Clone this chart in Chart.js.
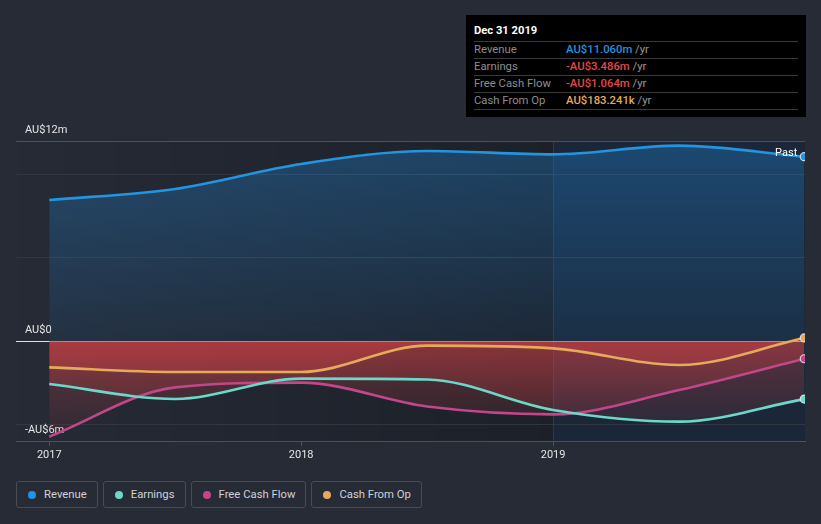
<!DOCTYPE html>
<html>
<head>
<meta charset="utf-8">
<script src="https://cdn.jsdelivr.net/npm/chart.js@4.4.1/dist/chart.umd.min.js"></script>
<style>
  html, body { margin: 0; padding: 0; background: #262b36; width: 821px; height: 524px; overflow: hidden; font-family: Roboto, "Open Sans", sans-serif; }
  #wrap { position: absolute; left: 0; top: 0; width: 821px; height: 470px; }
  #tip { position: absolute; left: 466px; top: 15px; width: 340px; height: 102px; background: #000; box-sizing: border-box; padding: 0 8px; }
  #tip .title { color: #fff; font-weight: bold; font-size: 11.2px; height: 26px; line-height: 32px; border-bottom: 1px solid #3a3a3a; }
  #tip .row { height: 16px; line-height: 16px; font-size: 11.3px; border-bottom: 1px solid #3a3a3a; position: relative; }
  #tip .lab { position: absolute; left: 0; color: #8e8e8e; }
  #tip .val { position: absolute; left: 92px; font-weight: 500; }
  #tip .unit { color: #9a9a9a; font-weight: normal; }
  #legend { position: absolute; left: 16px; top: 481px; display: flex; gap: 5px; }
  .item { box-sizing: border-box; height: 27px; border: 1px solid #474c57; border-radius: 3px; display: flex; align-items: center; padding: 0 10px 0 11px; color: #cfd2d6; font-size: 11.3px; }
  .dot { width: 8px; height: 8px; border-radius: 50%; margin-right: 8px; }
</style>
</head>
<body>
<div id="wrap"><canvas id="c" width="821" height="470"></canvas></div>
<div id="tip"></div>
<div id="legend"></div>
<script>
// ---- data ----
const periods = ["Dec 31 2016", "Jun 30 2017", "Dec 31 2017", "Jun 30 2018", "Dec 31 2018", "Jun 30 2019", "Dec 31 2019"];
const periodYears = [2017.0, 2017.5, 2018.0, 2018.5, 2019.0, 2019.5, 2019.997];
const revenue = [8.46, 9.12, 10.62, 11.4, 11.2, 11.72, 11.060];
const earnings = [-2.58, -3.48, -2.26, -2.31, -4.14, -4.84, -3.486];
const freeCashFlow = [-5.74, -2.78, -2.50, -3.93, -4.40, -2.94, -1.064];
const cashFromOp = [-1.58, -1.86, -1.86, -0.28, -0.44, -1.44, 0.183241];
const seriesNames = ["Revenue", "Earnings", "Free Cash Flow", "Cash From Op"];
const seriesColors = ["#2394df", "#6bd9ca", "#c4468a", "#e5aa5a"];
const xTickYears = [2017, 2018, 2019];
const yTickValues = [-6, -5, 0, 5, 10, 12];
const yTickLabels = { "12": "AU$12m", "0": "AU$0", "-6": "-AU$6m" };
const pastStart = 2019;

// ---- helpers ----
function fmt(v) {
  const s = v < 0 ? "-" : "";
  const a = Math.abs(v);
  return a >= 1 ? s + "AU$" + a.toFixed(3) + "m" : s + "AU$" + (a * 1000).toFixed(3) + "k";
}
const allSeries = [revenue, earnings, freeCashFlow, cashFromOp];
const tipValColors = ["#2394df", "#e54848", "#e54848", "#e5aa5a"];
let tipHtml = '<div class="title">' + periods[periods.length - 1] + '</div>';
seriesNames.forEach((n, i) => {
  const v = allSeries[i][allSeries[i].length - 1];
  tipHtml += '<div class="row"><span class="lab">' + n + '</span><span class="val" style="color:' + tipValColors[i] + '">' + fmt(v) + ' <span class="unit">/yr</span></span></div>';
});
document.getElementById('tip').innerHTML = tipHtml;
let legHtml = '';
seriesNames.forEach((n, i) => { legHtml += '<div class="item"><span class="dot" style="background:' + seriesColors[i] + '"></span>' + n + '</div>'; });
document.getElementById('legend').innerHTML = legHtml;

function pts(arr) { return arr.map((v, i) => ({ x: periodYears[i], y: v })); }

function blueFill(ctx) {
  const ch = ctx.chart; const a = ch.chartArea; if (!a) return 'rgba(33,150,243,0.2)';
  const y = ch.scales.y;
  const g = ch.ctx.createLinearGradient(0, y.getPixelForValue(12), 0, y.getPixelForValue(0));
  g.addColorStop(0, 'rgba(33,150,243,0.30)');
  g.addColorStop(1, 'rgba(33,150,243,0.07)');
  return g;
}
function redFill(ctx) {
  const ch = ctx.chart; const a = ch.chartArea; if (!a) return 'rgba(224,69,74,0.2)';
  const y = ch.scales.y;
  const g = ch.ctx.createLinearGradient(0, y.getPixelForValue(0), 0, y.getPixelForValue(-6));
  g.addColorStop(0, 'rgba(226,68,72,0.33)');
  g.addColorStop(1, 'rgba(226,68,72,0.04)');
  return g;
}

function makeDs(i, arr, fillFn) {
  return {
    label: seriesNames[i],
    data: pts(arr),
    borderColor: seriesColors[i],
    backgroundColor: fillFn,
    fill: 'origin',
    borderWidth: 2.6,
    cubicInterpolationMode: 'monotone',
    pointRadius: c => c.dataIndex === arr.length - 1 ? 4 : 0,
    pointBackgroundColor: seriesColors[i],
    pointBorderColor: 'rgba(230,235,240,0.85)',
    pointBorderWidth: 1.2,
    pointHoverRadius: 0,
    clip: 0
  };
}

const bgPlugin = {
  id: 'bgPlugin',
  beforeDraw(chart) {
    const { ctx, chartArea: a, scales: { x } } = chart;
    const xb = Math.round(x.getPixelForValue(pastStart));
    ctx.save();
    const g = ctx.createLinearGradient(a.left, 0, xb, 0);
    g.addColorStop(0, 'rgba(0,0,0,0.0)');
    g.addColorStop(1, 'rgba(0,0,0,0.24)');
    ctx.fillStyle = g;
    ctx.fillRect(a.left, a.top, xb - a.left, a.bottom - a.top);
    ctx.fillStyle = 'rgba(0,0,0,0.24)';
    ctx.fillRect(xb, a.top, a.right - xb, a.bottom - a.top);
    ctx.fillStyle = 'rgba(15,85,165,0.13)';
    ctx.fillRect(xb, a.top, a.right - xb, a.bottom - a.top);
    ctx.strokeStyle = 'rgba(45,75,115,0.55)';
    ctx.lineWidth = 1;
    ctx.beginPath(); ctx.moveTo(xb + 0.5, a.top); ctx.lineTo(xb + 0.5, a.bottom); ctx.stroke();
    ctx.restore();
  },
  afterDatasetsDraw(chart) {
    const meta = chart.getDatasetMeta(0);
    const p = meta.data[meta.data.length - 1];
    const ctx = chart.ctx;
    ctx.save();
    ctx.font = '11px Roboto';
    ctx.fillStyle = '#ffffff';
    ctx.textAlign = 'right';
    ctx.textBaseline = 'middle';
    ctx.fillText('Past', p.x - 7, p.y - 3);
    ctx.restore();
  }
};

new Chart(document.getElementById('c'), {
  type: 'line',
  data: {
    datasets: [
      makeDs(0, revenue, blueFill),
      makeDs(1, earnings, redFill),
      makeDs(2, freeCashFlow, redFill),
      makeDs(3, cashFromOp, redFill)
    ]
  },
  options: {
    responsive: false,
    animation: false,
    events: [],
    layout: { padding: { left: 16, right: 16, top: 141, bottom: 0 } },
    plugins: { legend: { display: false }, tooltip: { enabled: false }, filler: { drawTime: 'beforeDatasetsDraw' } },
    scales: {
      x: {
        type: 'linear',
        min: 2016.868,
        max: 2020.0,
        afterBuildTicks: s => { s.ticks = xTickYears.map(v => ({ value: v })); },
        afterFit: s => { s.height = 29; },
        grid: { drawOnChartArea: false, drawTicks: true, tickLength: 5, color: '#4b505b' },
        border: { display: true, color: '#4b505b' },
        ticks: { color: '#e6e6e6', font: { family: 'Roboto', size: 11 }, padding: 3, callback: v => String(v), autoSkip: false, maxRotation: 0 }
      },
      y: {
        min: -6,
        max: 12,
        afterBuildTicks: s => { s.ticks = yTickValues.map(v => ({ value: v })); },
        afterFit: s => { s.width = 0; },
        grid: {
          drawTicks: false,
          color: c => {
            const v = c.tick && c.tick.value;
            if (v === 0) return 'rgba(255,255,255,0.85)';
            if (v === 12 || v === -6) return '#4b505b';
            return '#313641';
          }
        },
        border: { display: false },
        ticks: {
          mirror: true, padding: 9, labelOffset: -11, autoSkip: false,
          color: '#e6e6e6', font: { family: 'Roboto', size: 11 },
          callback: v => yTickLabels[String(v)] || ''
        }
      }
    }
  },
  plugins: [bgPlugin]
});
</script>
</body>
</html>
